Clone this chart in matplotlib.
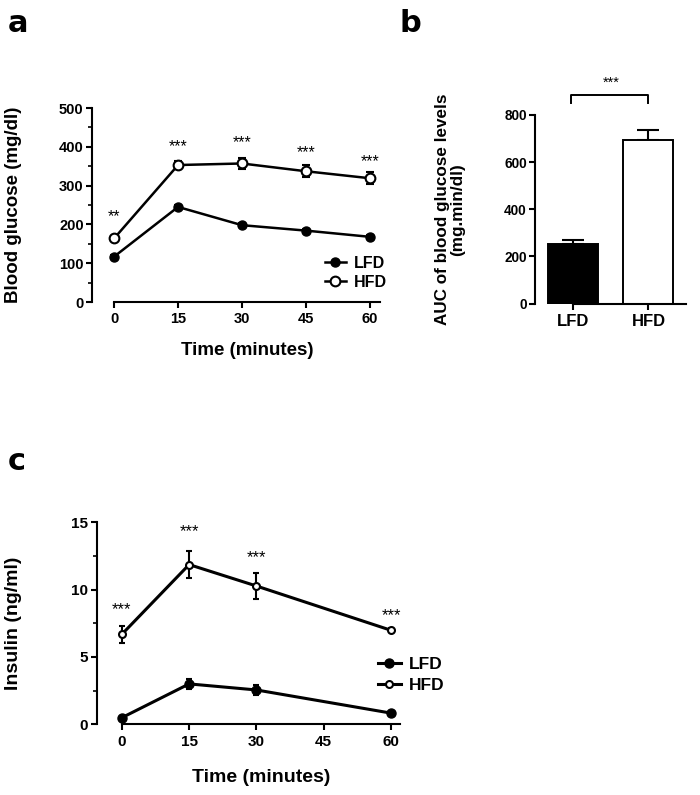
import numpy as np
import matplotlib
matplotlib.use("Agg")
import matplotlib.pyplot as plt

plt.rcParams['font.family'] = ['Liberation Sans', 'DejaVu Sans']
plt.rcParams['font.weight'] = 'bold'
plt.rcParams['axes.linewidth'] = 1.5

# panel a: blood glucose (mg/dl)
time_a = [0, 15, 30, 45, 60]
lfd_glu = [117, 245, 198, 184, 168]
lfd_glu_err = [4, 5, 5, 4, 4]
hfd_glu = [164, 353, 357, 337, 319]
hfd_glu_err = [6, 10, 15, 15, 15]
stars_a = ['**', '***', '***', '***', '***']
stars_a_y = [220, 400, 410, 385, 361]

# panel b: AUC
groups_b = ['LFD', 'HFD']
auc = [252, 695]
auc_err = [16, 42]

# panel c: insulin (ng/ml)
time_c = [0, 15, 30, 60]
lfd_ins = [0.49, 3.0, 2.55, 0.83]
lfd_ins_err = [0.05, 0.35, 0.4, 0.05]
hfd_ins = [6.68, 11.86, 10.27, 6.98]
hfd_ins_err = [0.65, 1.0, 0.95, 0.15]
stars_c = ['***', '***', '***', '***']
stars_c_y = [8.5, 14.3, 12.35, 8.1]

W, H = 700, 795
fig = plt.figure(figsize=(W / 100, H / 100), dpi=100)


def px_axes(left, right, bottom, top):
    return fig.add_axes([left / W, 1 - bottom / H, (right - left) / W, (bottom - top) / H])


def style(ax, xmax_bound, ymax, tsize):
    for s in ['top', 'right']:
        ax.spines[s].set_visible(False)
    ax.spines['left'].set_bounds(0, ymax)
    ax.spines['bottom'].set_bounds(0, xmax_bound)
    ax.tick_params(direction='out', length=4, width=1.5, labelsize=tsize)
    ax.tick_params(axis='y', pad=2)
    ax.tick_params(axis='x', pad=3.5)
    ax.tick_params(which='minor', length=3, width=1.2)


# ---- a
ax1 = px_axes(92, 380, 302, 108)
ax1.set_xlim(-5.2, 62.4)
ax1.set_ylim(0, 500)
l1, = ax1.plot(time_a, lfd_glu, '-o', color='black', lw=1.8, ms=6.5, clip_on=False, zorder=3)
ax1.errorbar(time_a, lfd_glu, yerr=lfd_glu_err, fmt='none', ecolor='black', elinewidth=1.5, capsize=3, capthick=1.5, zorder=2)
h1, = ax1.plot(time_a, hfd_glu, '-o', color='black', mfc='white', mew=1.5, lw=1.8, ms=7, clip_on=False, zorder=3)
ax1.errorbar(time_a, hfd_glu, yerr=hfd_glu_err, fmt='none', ecolor='black', elinewidth=1.5, capsize=3, capthick=1.5, zorder=2)
for x, s, y in zip(time_a, stars_a, stars_a_y):
    ax1.text(x, y, s, ha='center', va='center', fontsize=11.5, fontweight='normal')
ax1.set_xticks(time_a)
ax1.set_yticks(np.arange(0, 501, 100))
ax1.set_yticks(np.arange(50, 500, 100), minor=True)
style(ax1, 62.4, 500, 10.5)
ax1.set_xlabel('Time (minutes)', fontsize=13.5, fontweight='bold')
ax1.set_ylabel('Blood glucose (mg/dl)', fontsize=13.5, fontweight='bold')
ax1.xaxis.set_label_coords(0.54, -0.205)
ax1.yaxis.set_label_coords(-0.243, 0.5)
ax1.legend([l1, h1], ['LFD', 'HFD'], loc='upper left', bbox_to_anchor=(325 / W, 1 - 256 / H),
           bbox_transform=fig.transFigure, frameon=False, fontsize=11.5, handlelength=1.3,
           handletextpad=0.5, labelspacing=0.25, borderpad=0, borderaxespad=0)

# ---- b
ax2 = px_axes(535, 686, 303.5, 115)
ax2.set_xlim(-0.51, 1.5)
ax2.set_ylim(0, 800)
xb = np.arange(len(groups_b))
ax2.bar(xb, auc, width=0.667, color=['black', 'white'], edgecolor='black', linewidth=1.4, zorder=2)
ax2.errorbar(xb, auc, yerr=[[0, 0], auc_err], fmt='none', ecolor='black', elinewidth=1.5, capsize=8, capthick=1.5, zorder=1)
ax2.set_xticks(xb)
ax2.set_xticklabels(groups_b)
ax2.set_yticks(np.arange(0, 801, 200))
style(ax2, 1.5, 800, 9.8)
ax2.tick_params(axis='x', labelsize=12)
ax2.set_ylabel('AUC of blood glucose levels\n(mg.min/dl)', fontsize=12.3, fontweight='bold', linespacing=1.0)
ax2.yaxis.set_label_coords(-0.464, 0.5)
ax2.plot([xb[0] - 0.03, xb[0] - 0.03, xb[1] - 0.01, xb[1] - 0.01], [851, 885, 885, 851], color='black', lw=1.4, clip_on=False)
ax2.text((xb[0] + xb[1]) / 2, 936, '***', ha='center', va='center', fontsize=10.5, fontweight='normal')

# ---- c
ax3 = px_axes(96.7, 400, 724.3, 522.3)
ax3.set_xlim(-5.6, 62)
ax3.set_ylim(0, 15)
l3, = ax3.plot(time_c, lfd_ins, '-o', color='black', lw=2.2, ms=6.5, clip_on=False, zorder=3)
ax3.errorbar(time_c, lfd_ins, yerr=lfd_ins_err, fmt='none', ecolor='black', elinewidth=1.8, capsize=2.5, capthick=1.5, zorder=2)
h3, = ax3.plot(time_c, hfd_ins, '-o', color='black', mfc='white', mew=1.5, lw=2.2, ms=5, clip_on=False, zorder=3)
ax3.errorbar(time_c, hfd_ins, yerr=hfd_ins_err, fmt='none', ecolor='black', elinewidth=1.5, capsize=2.5, capthick=1.5, zorder=2)
for x, s, y in zip(time_c, stars_c, stars_c_y):
    ax3.text(x, y, s, ha='center', va='center', fontsize=12, fontweight='normal')
ax3.set_xticks([0, 15, 30, 45, 60])
ax3.set_yticks([0, 5, 10, 15])
ax3.set_yticks([2.5, 7.5, 12.5], minor=True)
style(ax3, 62, 15, 11)
ax3.set_xlabel('Time (minutes)', fontsize=14, fontweight='bold')
ax3.set_ylabel('Insulin (ng/ml)', fontsize=14, fontweight='bold')
ax3.xaxis.set_label_coords(0.541, -0.221)
ax3.yaxis.set_label_coords(-0.247, 0.5)
ax3.legend([l3, h3], ['LFD', 'HFD'], loc='upper left', bbox_to_anchor=(378 / W, 1 - 657 / H),
           bbox_transform=fig.transFigure, frameon=False, fontsize=12.5, handlelength=1.3,
           handletextpad=0.45, labelspacing=0.35, borderpad=0, borderaxespad=0)

# panel letters
for lbl, x, y in [('a', 8, 32), ('b', 400, 32), ('c', 8, 470)]:
    fig.text(x / W, 1 - y / H, lbl, fontsize=22, fontweight='bold', family='DejaVu Sans', va='baseline')

fig.savefig('out.png', dpi=100)
